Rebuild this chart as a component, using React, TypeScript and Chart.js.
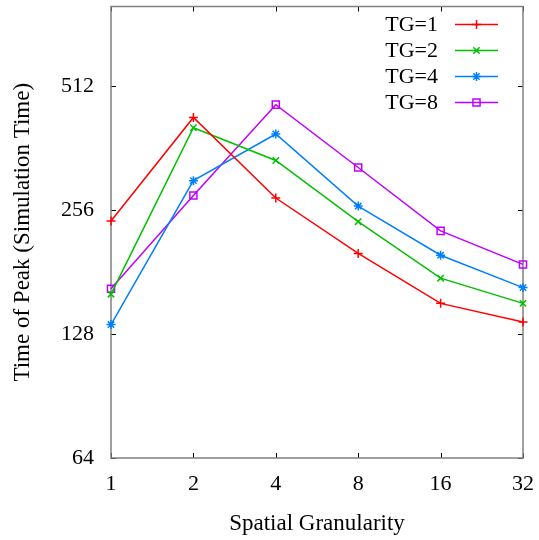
import React, { useEffect, useRef } from "react";
import { Chart, registerables } from "chart.js";

Chart.register(...registerables);

const categories = ["1", "2", "4", "8", "16", "32"];
const yTickValues = [64, 128, 256, 512];
const seriesLabels = ["TG=1", "TG=2", "TG=4", "TG=8"];
const tg1 = [241, 430, 274, 201, 152, 137];
const tg2 = [160, 406, 338, 240, 175, 152];
const tg4 = [135, 302, 392, 262, 199, 166];
const tg8 = [165, 278, 462, 325, 228, 189];
const seriesColors = ["#ff0000", "#00c000", "#0080ff", "#c000ff"];
const seriesMarkers = ["cross", "crossRot", "star", "rect"];
const FONT = "'Liberation Serif', 'Times New Roman', serif";

function drawMarker(ctx: CanvasRenderingContext2D, style: string, x: number, y: number, r: number) {
  ctx.beginPath();
  const d = r * Math.SQRT1_2;
  if (style === "cross" || style === "star") {
    ctx.moveTo(x, y - r);
    ctx.lineTo(x, y + r);
    ctx.moveTo(x - r, y);
    ctx.lineTo(x + r, y);
  }
  if (style === "crossRot" || style === "star") {
    ctx.moveTo(x - d, y - d);
    ctx.lineTo(x + d, y + d);
    ctx.moveTo(x - d, y + d);
    ctx.lineTo(x + d, y - d);
  }
  if (style === "rect") {
    ctx.rect(x - d, y - d, 2 * d, 2 * d);
  }
  ctx.stroke();
}

const framePlugin = {
  id: "frame",
  beforeDatasetsDraw(chart: any) {
    const { ctx, chartArea } = chart;
    const { left, right, top, bottom } = chartArea;
    const xs = chart.scales.x;
    const ys = chart.scales.y;
    ctx.save();
    ctx.strokeStyle = "#000";
    ctx.lineWidth = 1;
    const t = 5;
    categories.forEach((_c, i) => {
      const px = Math.round(xs.getPixelForValue(i)) + 0.5;
      ctx.beginPath();
      ctx.moveTo(px, bottom);
      ctx.lineTo(px, bottom - t);
      ctx.moveTo(px, top);
      ctx.lineTo(px, top + t);
      ctx.stroke();
    });
    yTickValues.forEach((v) => {
      const py = Math.round(ys.getPixelForValue(v)) + 0.5;
      ctx.beginPath();
      ctx.moveTo(left, py);
      ctx.lineTo(left + t, py);
      ctx.moveTo(right, py);
      ctx.lineTo(right - t, py);
      ctx.stroke();
    });
    ctx.strokeStyle = "#808080";
    ctx.lineWidth = 1.5;
    ctx.strokeRect(left, top, right - left, bottom - top);
    ctx.restore();
  },
};

const legendPlugin = {
  id: "insideLegend",
  afterDatasetsDraw(chart: any) {
    const { ctx, chartArea } = chart;
    ctx.save();
    ctx.font = `22px ${FONT}`;
    ctx.textAlign = "right";
    ctx.textBaseline = "middle";
    chart.data.datasets.forEach((ds: any, i: number) => {
      const y = chartArea.top + 18 + i * 26;
      ctx.fillStyle = "#000";
      ctx.fillText(ds.label, 438, y + 1);
      ctx.strokeStyle = ds.borderColor;
      ctx.lineWidth = 1.5;
      ctx.beginPath();
      ctx.moveTo(455, y);
      ctx.lineTo(498, y);
      ctx.stroke();
      drawMarker(ctx, seriesMarkers[i], 476.5, y, ds.pointRadius);
    });
    ctx.restore();
  },
};

export default function App() {
  const ref = useRef<HTMLCanvasElement | null>(null);
  useEffect(() => {
    if (!ref.current) return;
    Chart.defaults.font.family = FONT;
    const seriesData = [tg1, tg2, tg4, tg8];
    const chart = new Chart(ref.current, {
      type: "line",
      data: {
        labels: categories,
        datasets: seriesData.map((d, i) => ({
          label: seriesLabels[i],
          data: d,
          borderColor: seriesColors[i],
          backgroundColor: "transparent",
          borderWidth: 1.5,
          pointStyle: seriesMarkers[i] as any,
          pointRadius: seriesMarkers[i] === "rect" ? 5 : 4.5,
          pointBorderWidth: 1.5,
          pointBorderColor: seriesColors[i],
          pointBackgroundColor: "transparent",
          tension: 0,
        })),
      },
      options: {
        responsive: false,
        animation: false,
        layout: { padding: { top: 6, right: 16, left: 0, bottom: 0 } },
        plugins: { legend: { display: false }, tooltip: { enabled: false } },
        scales: {
          x: {
            type: "category",
            offset: false,
            grid: { display: false, drawTicks: false },
            border: { display: false },
            ticks: { color: "#000", font: { size: 22 }, padding: 13, maxRotation: 0 },
            title: {
              display: true,
              text: "Spatial Granularity",
              color: "#000",
              font: { size: 23 },
              padding: { top: 0, bottom: 2 },
            },
            afterFit: (s: any) => {
              s.height = 82;
              s.paddingLeft = 0;
              s.paddingRight = 0;
            },
          },
          y: {
            type: "logarithmic",
            min: 64,
            max: 800,
            grid: { display: false, drawTicks: false },
            border: { display: false },
            ticks: {
              color: "#000",
              font: { size: 22 },
              padding: 17,
              callback: (v: any) => String(v),
            },
            afterBuildTicks: (s: any) => {
              s.ticks = yTickValues.map((v) => ({ value: v }));
            },
            title: {
              display: true,
              text: "Time of Peak (Simulation Time)",
              color: "#000",
              font: { size: 23 },
              padding: { top: 9, bottom: 0 },
            },
            afterFit: (s: any) => {
              s.width = 111;
              s.paddingTop = 0;
              s.paddingBottom = 0;
            },
          },
        },
      },
      plugins: [framePlugin, legendPlugin],
    });
    return () => chart.destroy();
  }, []);
  return (
    <div style={{ position: "fixed", left: 0, top: 0, width: 539, height: 540, background: "#fff" }}>
      <canvas ref={ref} width={539} height={540} />
    </div>
  );
}
